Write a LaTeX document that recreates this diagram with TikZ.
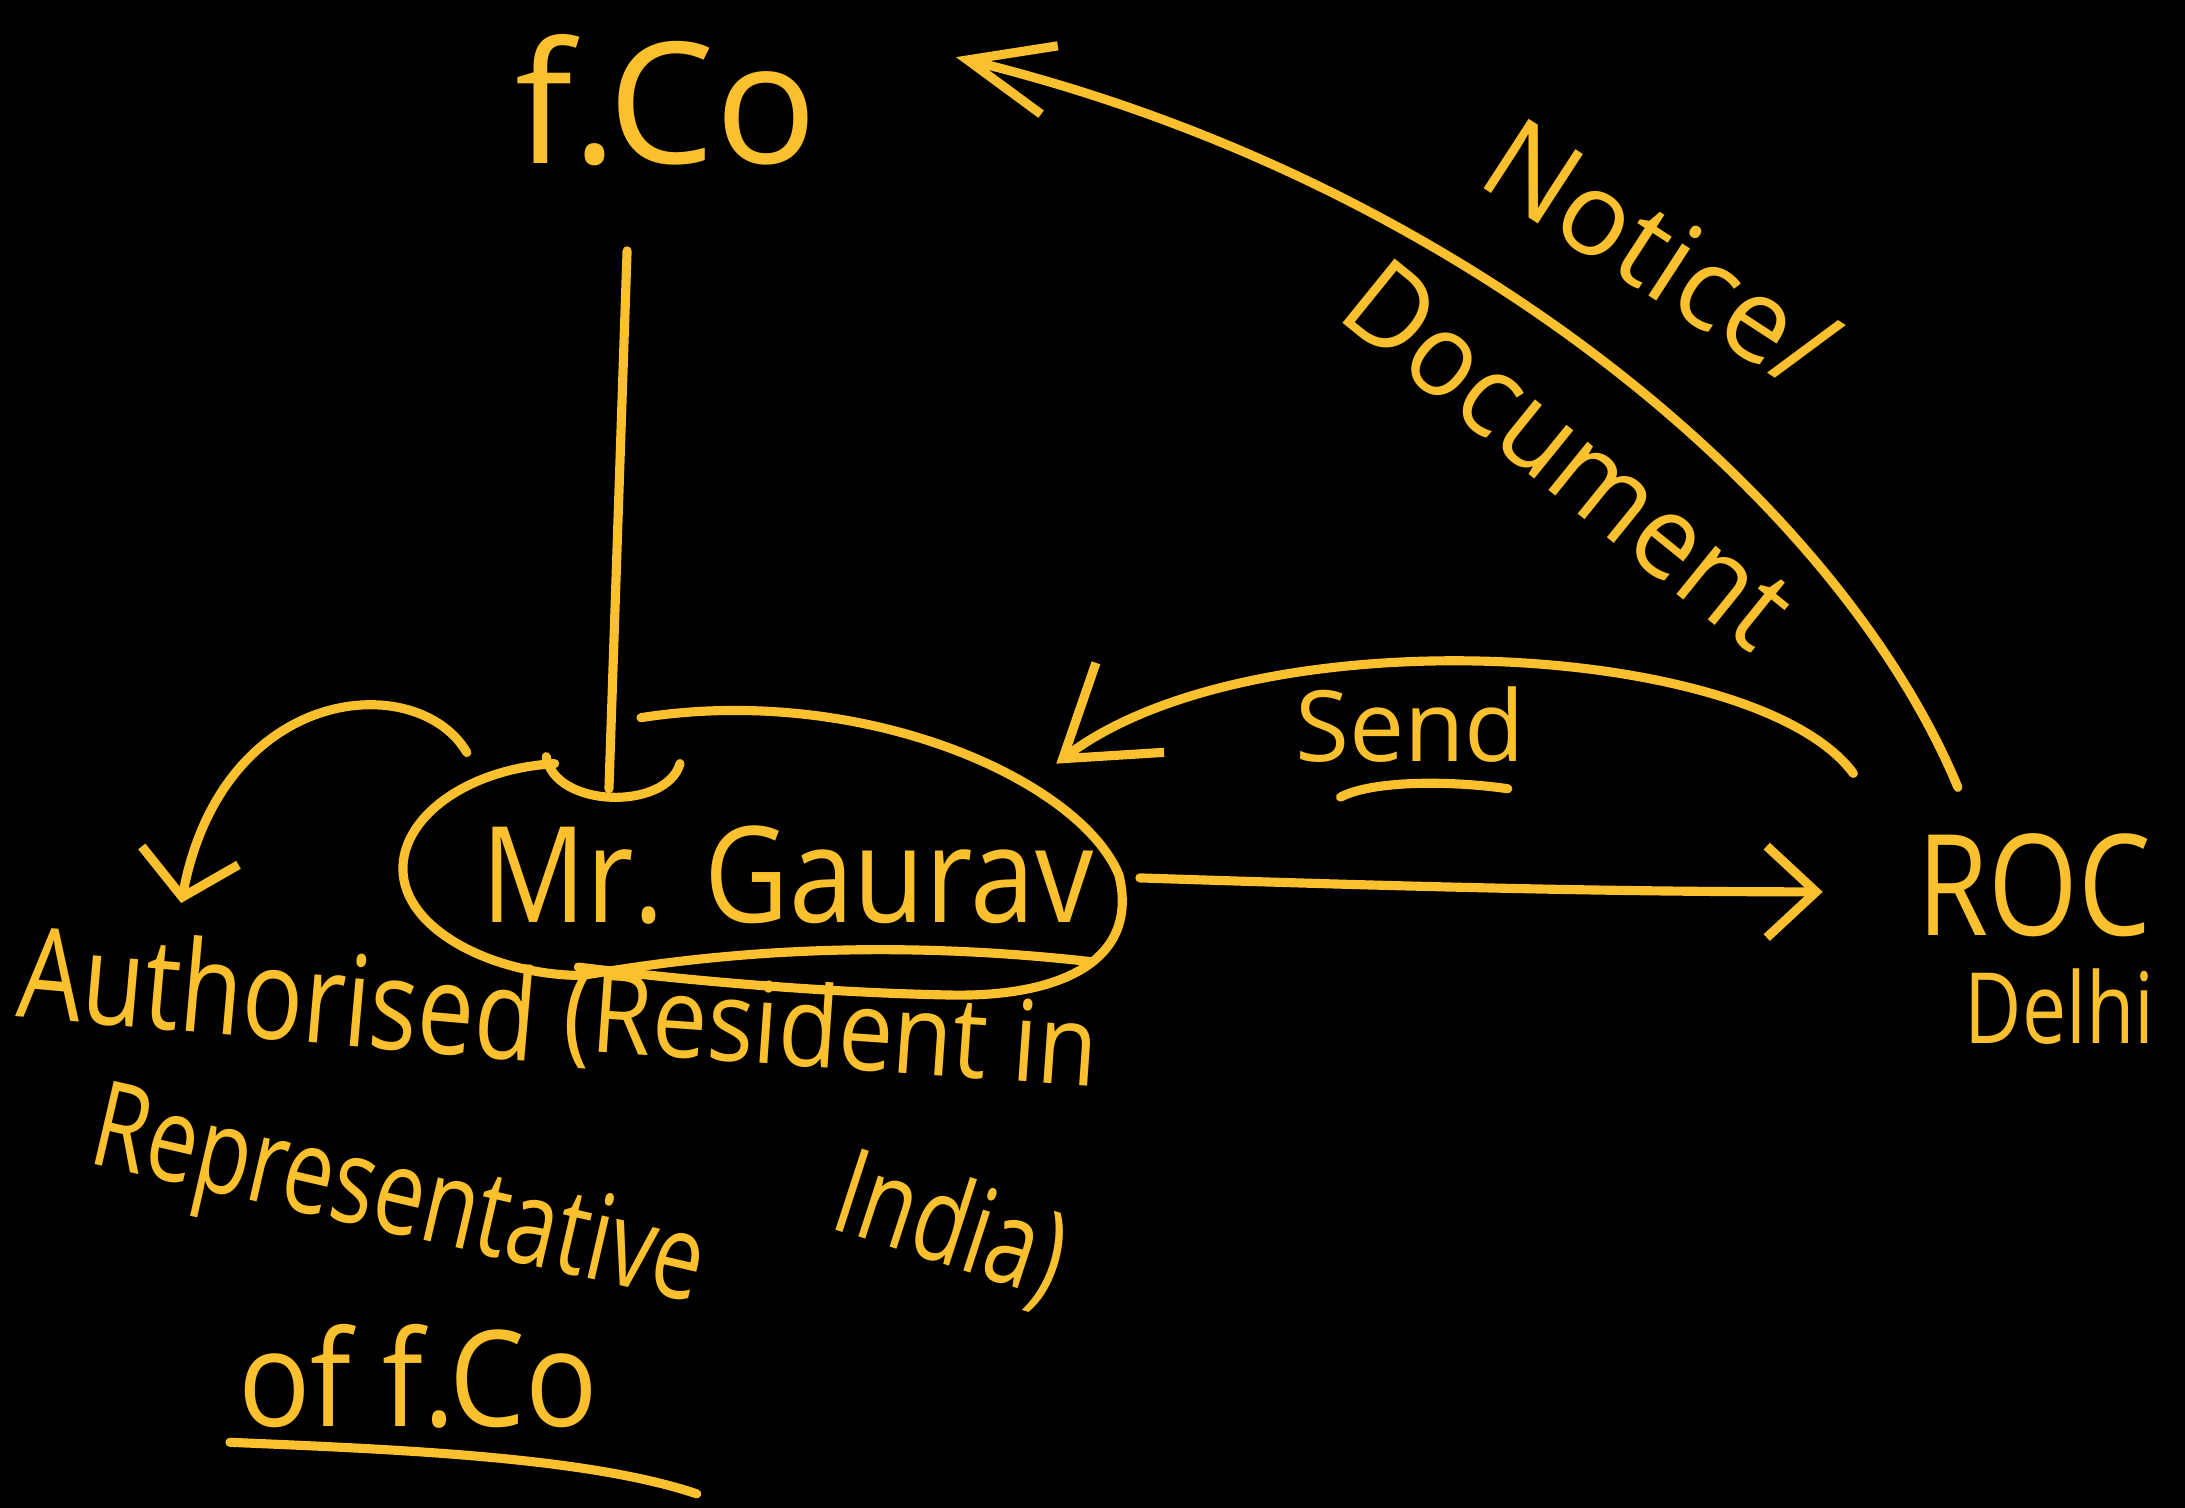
\documentclass[tikz,border=0pt]{standalone}
\usepackage{fontspec}
\setmainfont{Open Sans}
\usetikzlibrary{arrows.meta}
\definecolor{inkc}{RGB}{251,192,45}
\newcommand{\fsz}[1]{\fontsize{#1pt}{#1pt}\selectfont}
\newcommand{\squeezetext}[2]{\scalebox{#1}[1]{#2}}

\begin{document}
\begin{tikzpicture}[x=0.013935cm, y=-0.013935cm,
  ink/.style={draw=inkc, line width=2.6pt, line cap=round, line join=round},
  lbl/.style={text=inkc, inner sep=0pt, anchor=center}]
  % black board
  \fill[black] (0,0) rectangle (1568,1082);
  \useasboundingbox (0,0) rectangle (1568,1082);

  % labels
  \node[lbl, font=\fsz{48}] (fco) at (478,72) {f.Co};
  \node[lbl, font=\fsz{33}, rotate=-33] (notice) at (1192,182) {Notice/};
  \node[lbl, font=\fsz{33}, rotate=-39] (document) at (1126,326) {\squeezetext{0.95}{Document}};
  \node[lbl, font=\fsz{38}] (gaurav) at (565,628) {\squeezetext{0.87}{Mr. Gaurav}};
  \node[lbl, font=\fsz{28}] (send) at (1012,520) {Send};
  \node[lbl, font=\fsz{40}] (roc) at (1460,635) {\squeezetext{0.82}{ROC}};
  \node[lbl, font=\fsz{28}] (delhi) at (1478,722) {\squeezetext{0.8}{Delhi}};
  \node[lbl, font=\fsz{36}, rotate=-5] (auth) at (200,712) {\squeezetext{0.8}{Authorised}};
  \node[lbl, font=\fsz{32}, rotate=-4] (resident) at (596,742) {\squeezetext{0.87}{(Resident in}};
  \node[lbl, font=\fsz{34}, rotate=-18] (india) at (682,882) {\squeezetext{0.75}{India)}};
  \node[lbl, font=\fsz{34}, rotate=-13] (rep) at (285,864) {\squeezetext{0.75}{Representative}};
  \node[lbl, font=\fsz{38}] (offco) at (300,988) {\squeezetext{0.9}{of f.Co}};

  % connector end points
  \coordinate (rocTop) at (1405,565);
  \coordinate (fcoTip) at (686,41);
  \coordinate (sendStart) at (1330,555);
  \coordinate (sendTip) at (758,548);
  \coordinate (loopStart) at (335,540);
  \coordinate (authTip) at (130,648);
  \coordinate (gEast) at (818,630);
  \coordinate (rocWest) at (1308,640);
  \coordinate (vTop) at (450,180);
  \coordinate (cupBot) at (437,566);

  % ring round Mr. Gaurav
  \draw[ink] (398,548) .. controls (330,552) and (282,592) .. (290,632)
    .. controls (298,672) and (360,700) .. (418,700)
    .. controls (500,686) and (620,672) .. (782,690);
  \draw[ink] (460,515) .. controls (620,490) and (775,560) .. (803,628)
    .. controls (818,690) and (760,716) .. (680,714)
    .. controls (580,712) and (480,702) .. (415,694);
  % cup under the vertical line
  \draw[ink] (392,543) .. controls (398,580) and (478,582) .. (488,548);

  % connectors
  \draw[ink] (vTop) -- (cupBot);
  \draw[ink, -{Straight Barb[length=24pt,width=20pt]}]
    (rocTop) .. controls (1320,360) and (1050,130) .. (fcoTip);
  \draw[ink, -{Straight Barb[length=24pt,width=32pt]}]
    (sendStart) .. controls (1260,460) and (900,440) .. (sendTip);
  \draw[ink, -{Straight Barb[length=12pt,width=28pt]}]
    (loopStart) .. controls (300,480) and (160,490) .. (authTip);
  \draw[ink, -{Straight Barb[length=14pt,width=26pt]}]
    (gEast) .. controls (1000,636) and (1150,640) .. (rocWest);

  % underlines
  \draw[ink] (962,572) .. controls (985,560) and (1040,560) .. (1082,566);
  \draw[ink] (165,1035) .. controls (280,1040) and (420,1045) .. (500,1072);
\end{tikzpicture}
\end{document}
